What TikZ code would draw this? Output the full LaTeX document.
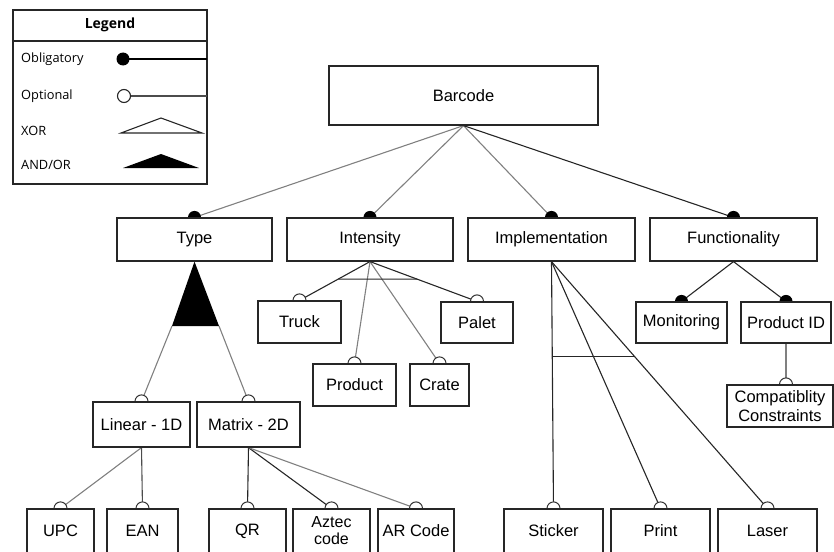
\documentclass[tikz,border=0pt]{standalone}
\usepackage{fontspec}
\setmainfont{Liberation Sans}
\newfontfamily\legendfont{Open Sans}
\usetikzlibrary{backgrounds,calc}

\begin{document}
\begin{tikzpicture}[x=1pt,y=-1pt,
  box/.style={draw=black!85, line width=1.2pt, fill=white, inner sep=0pt,
              align=center, font=\fontsize{16.5}{19}\selectfont},
  wh/.style 2 args={minimum width=#1pt, minimum height=#2pt},
  lg/.style={draw=black!50, line width=1.1pt},
  dk/.style={draw=black!85, line width=1.1pt},
  oblig/.style={fill=black},
  opt/.style={draw=black!80, fill=white, line width=1pt},
  legtext/.style={anchor=base west, inner sep=0pt, font=\legendfont\fontsize{12.8}{14}\selectfont}
]
\useasboundingbox (0,0) rectangle (834,551);
\clip (0,0) rectangle (834,551);

% ---------- legend ----------
\draw[black!85, line width=1.1pt] (13,10) rectangle (207,184);
\draw[black!85, line width=1.1pt] (13,41) -- (207,41);
\node[inner sep=0pt, font=\legendfont\bfseries\fontsize{14}{16}\selectfont] (legtitle) at (110,25) {Legend};
\node[legtext] (lob) at (21,62.5) {Obligatory};
\node[legtext] (lop) at (21,99) {Optional};
\node[legtext] (lxor) at (21,135) {XOR};
\node[legtext] (land) at (21,169) {AND/OR};
\coordinate (lobdot) at (123,59);
\coordinate (lobend) at (207,59);
\coordinate (lopdot) at (124,96);
\coordinate (lopend) at (207,96);
\draw[black, line width=1.1pt] (lobdot) -- (lobend);
\fill[black] (lobdot) circle (6.5);
\draw[black!70, line width=1.1pt] (lopdot) -- (lopend);
\draw[black!85, fill=white, line width=1.1pt] (lopdot) circle (6.5);
\draw[black!85, line width=1.1pt] (121,133) -- (161,118) -- (202,133) -- cycle;
\fill[black] (123,168) -- (161,154) -- (199,168) -- cycle;

% ---------- feature boxes ----------
\node[box, wh={269}{59}] (barcode) at (463.5,95.5) {Barcode};

\node[box, wh={155}{43}] (type)  at (194.5,239.5) {Type};
\node[box, wh={166}{43}] (inten) at (370,239.5) {Intensity};
\node[box, wh={167}{43}] (impl)  at (551.5,239.5) {Implementation};
\node[box, wh={167}{43}] (func)  at (733.5,239.5) {Functionality};

\node[box, wh={83}{42}] (truck)   at (299.5,322) {Truck};
\node[box, wh={83}{42}] (product) at (354.5,385) {Product};
\node[box, wh={59}{42}] (crate)   at (439.5,385) {Crate};
\node[box, wh={72}{41}] (palet)   at (477,322.5) {Palet};

\node[box, wh={91}{41}] (monit) at (681.5,322.5) {Monitoring};
\node[box, wh={90}{41}] (pid)   at (786,322.5) {Product ID};
\node[box, wh={106}{42}, font=\fontsize{16.5}{19}\selectfont] (compat) at (780,406) {Compatiblity\\Constraints};

\node[box, wh={97}{45}]  (linear) at (141.5,424.5) {Linear - 1D};
\node[box, wh={103}{45}] (matrix) at (248.5,424.5) {Matrix - 2D};

\node[box, wh={67}{44}] (upc)   at (60.5,531) {UPC};
\node[box, wh={71}{44}] (ean)   at (142.5,531) {EAN};
\node[box, wh={77}{44}] (qr)    at (247.5,531) {QR};
\node[box, wh={77}{44}, font=\fontsize{16}{17}\selectfont] (aztec) at (331.5,531) {Aztec\\code};
\node[box, wh={76}{44}] (arcode) at (416,531) {AR Code};

\node[box, wh={99}{44}] (sticker) at (553.5,531) {Sticker};
\node[box, wh={99}{44}] (print)   at (660.5,531) {Print};
\node[box, wh={99}{44}] (laser)   at (767.5,531) {Laser};

\coordinate (andl) at (172,326);
\coordinate (andr) at (219,326);
\coordinate (cmpdot) at (pid.south |- compat.north);

% ---------- connectors, drawn behind the boxes ----------
\begin{pgfonlayer}{background}
  % root
  \draw[lg] (barcode.south) -- (type.north);
  \draw[lg] (barcode.south) -- (inten.north);
  \draw[lg] (barcode.south) -- (impl.north);
  \draw[dk] (barcode.south) -- (func.north);
  \foreach \n in {type,inten,impl,func} \fill[oblig] (\n.north) circle (6.5);

  % type: and/or group
  \fill[black] (type.south) -- (andl) -- (andr) -- cycle;
  \draw[lg] (andl) -- (linear.north);
  \draw[lg] (andr) -- (matrix.north);
  \draw[opt] (linear.north) circle (6.5);
  \draw[opt] (matrix.north) circle (6.5);

  \draw[lg] (linear.south) -- (upc.north);
  \draw[black!70, line width=1.1pt] (linear.south) -- (ean.north);
  \draw[dk] (matrix.south) -- (qr.north);
  \draw[dk] (matrix.south) -- (aztec.north);
  \draw[lg] (matrix.south) -- (arcode.north);
  \foreach \n in {upc,ean,qr,aztec,arcode} \draw[opt] (\n.north) circle (6.5);

  % intensity
  \draw[dk] (inten.south) -- (truck.north);
  \draw[lg] (inten.south) -- (product.north);
  \draw[lg] (inten.south) -- (crate.north);
  \draw[dk] (inten.south) -- (palet.north);
  \draw[dk] ($(inten.south)!0.45!(truck.north)$) -- ($(inten.south)!0.44!(palet.north)$);
  \foreach \n in {truck,product,crate,palet} \draw[opt] (\n.north) circle (6.5);

  % implementation
  \draw[dk] (impl.south) -- (sticker.north);
  \draw[dk] (impl.south) -- (print.north);
  \draw[dk] (impl.south) -- (laser.north);
  \draw[dk] ($(impl.south)!0.383!(sticker.north)$) -- ($(impl.south)!0.383!(laser.north)$);
  \foreach \n in {sticker,print,laser} \draw[opt] (\n.north) circle (6.5);

  % functionality
  \draw[dk] (func.south) -- (monit.north);
  \draw[dk] (func.south) -- (pid.north);
  \fill[oblig] (monit.north) circle (6.5);
  \fill[oblig] (pid.north) circle (6.5);
  \draw[lg] (pid.south) -- (cmpdot);
  \draw[opt] (cmpdot) circle (6.5);
\end{pgfonlayer}
\end{tikzpicture}
\end{document}
